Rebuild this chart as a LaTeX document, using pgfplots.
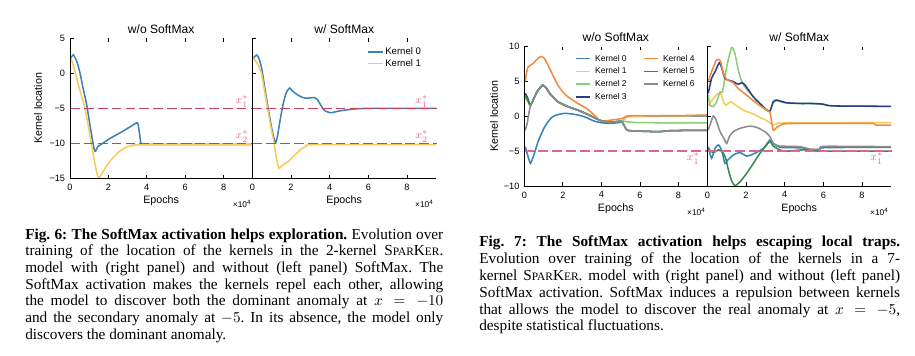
\documentclass[border=0pt]{standalone}
\usepackage{fontspec}
\setmainfont{Liberation Serif}
\setsansfont{Liberation Sans}
\usepackage{pgfplots}
\pgfplotsset{compat=1.18}
\definecolor{kA}{HTML}{3A80BA}
\definecolor{kB}{HTML}{F9C95A}
\definecolor{kC}{HTML}{86CF74}
\definecolor{kD}{HTML}{2B3C8A}
\definecolor{kE}{HTML}{EF8A3E}
\definecolor{kF}{HTML}{2F8B4F}
\definecolor{kG}{HTML}{8C8C8C}
\definecolor{refred}{HTML}{C8405E}
\definecolor{refpink}{HTML}{E0658E}
\definecolor{lab}{HTML}{E0708E}
\newcommand\fs[1]{\fontsize{#1}{#1}\selectfont}
\newcommand\smc[1]{{\fontsize{8.2}{9}\selectfont #1}}
\newcommand\sparker{S\smc{PAR}K\smc{ER}}
\pgfplotsset{
  panel/.style={
    scale only axis, anchor=north west,
    axis line style={draw=none},
    xmin=0, xmax=9.5,
    xtick={0,2,4,6,8}, xticklabels={0,2,4,6,8},
    xtick pos=both, ytick pos=left, tick align=inside,
    major tick length=2.6pt,
    tick style={black, line width=0.6pt},
    ticklabel style={font=\fs{6.6}\sffamily},
    xticklabel style={yshift=-0.5pt},
    clip=false,
    legend image code/.code={\draw[##1, line width=1.2pt, solid] (0pt,0pt) -- (11pt,0pt);},
    every axis plot/.append style={line width=1.1pt, smooth, tension=0.35},
  },
}
\begin{document}
\frenchspacing
\begin{tikzpicture}
\begin{scope}[x=0.72pt,y=-0.72pt]
\path[use as bounding box] (0,0) rectangle (915,355);
\coordinate (A) at (70,38.3);
\coordinate (B) at (252.3,38.3);
\coordinate (C) at (524.3,46.7);
\coordinate (D) at (707.3,46.7);
\end{scope}

% ---------- Fig 6 left
\begin{axis}[panel, at={(A)}, width=131.3pt, height=100.8pt,
  ymin=-15, ymax=5, ytick={-15,-10,-5,0,5}, yticklabels={−15,−10,−5,0,5}]
\addplot[kA] coordinates {(0.05,2.2) (0.17,2.65) (0.35,1.73) (0.52,0.05) (0.7,-2.36) (0.87,-4.5) (1.04,-7.4) (1.22,-10.3) (1.3,-11.15) (1.36,-11.0) (1.44,-10.5) (1.57,-10.25) (2.09,-9.3) (2.61,-8.5) (3.13,-7.65) (3.51,-7.07) (3.6,-8.2) (3.7,-10.05) (3.9,-10.15) (9.5,-10.15)};
\addplot[kB] coordinates {(0.05,2.2) (0.26,0.3) (0.43,-1.6) (0.61,-3.3) (0.78,-5.0) (0.96,-7.6) (1.13,-10.3) (1.3,-12.9) (1.43,-14.6) (1.51,-15.0) (1.65,-14.4) (1.91,-13.2) (2.26,-12.0) (2.6,-11.1) (2.96,-10.5) (3.3,-10.3) (3.65,-10.22) (9.5,-10.22)};
\addplot[refred, line width=0.9pt, dash pattern=on 7pt off 3pt] coordinates {(0,-5) (9.5,-5)};
\addplot[refred, line width=0.9pt, dash pattern=on 7pt off 3pt] coordinates {(0,-10) (9.5,-10)};
\node[lab, font=\fs{8}, yshift=4.8pt] at (axis cs:8.96,-5) {$x_1^*$};
\node[lab, font=\fs{8}, yshift=4.8pt] at (axis cs:8.96,-10) {$x_2^*$};
\end{axis}

% ---------- Fig 6 right
\begin{axis}[panel, at={(B)}, width=132.3pt, height=100.8pt,
  ymin=-15, ymax=5, ytick={-15,-10,-5,0,5}, yticklabels={},
  legend style={draw=none, fill=none, font=\fs{6.9}\sffamily, at={(axis description cs:0.6,0.965)}, anchor=north west,
    nodes={inner sep=1pt, text height=5pt, text depth=1.3pt}}, legend cell align=left]
\addplot[kA, forget plot] coordinates {(0.05,2.2) (0.22,2.6) (0.35,2.1) (0.5,0.5) (0.65,-2.2) (0.82,-5.0) (1.0,-7.8) (1.15,-9.6) (1.21,-9.95) (1.3,-9.0) (1.45,-6.5) (1.6,-4.3) (1.75,-2.8) (1.93,-2.1) (2.1,-2.6) (2.35,-3.1) (2.6,-3.45) (2.8,-3.56) (3.0,-3.5) (3.21,-3.46) (3.38,-3.8) (3.55,-4.6) (3.73,-5.3) (4.03,-5.63) (4.3,-5.5) (4.58,-5.34) (5.26,-5.1) (5.95,-5.02) (9.5,-5.0)};
\addplot[kB, forget plot] coordinates {(0.05,2.2) (0.25,1.4) (0.47,0.05) (0.63,-2.5) (0.79,-5.0) (0.95,-7.5) (1.13,-10.0) (1.25,-12.2) (1.38,-13.56) (1.5,-13.3) (1.68,-12.9) (1.9,-12.5) (2.19,-11.7) (2.5,-10.9) (2.79,-10.43) (3.21,-10.2) (9.5,-10.2)};
\addplot[refred, line width=0.9pt, dash pattern=on 7pt off 3pt, forget plot] coordinates {(0,-5) (9.5,-5)};
\addplot[refred, line width=0.9pt, dash pattern=on 7pt off 3pt, forget plot] coordinates {(0,-10) (9.5,-10)};
\node[lab, font=\fs{8}, yshift=4.8pt] at (axis cs:8.76,-5) {$x_1^*$};
\node[lab, font=\fs{8}, yshift=4.8pt] at (axis cs:8.76,-10) {$x_2^*$};
\addlegendimage{draw=kA, line width=1.2pt}\addlegendentry{Kernel 0}
\addlegendimage{draw=kB, line width=1.2pt}\addlegendentry{Kernel 1}
\end{axis}

% ---------- Fig 7 left
\begin{axis}[panel, at={(C)}, width=131.8pt, height=100.3pt,
  ymin=-10, ymax=10, ytick={-10,-5,0,5,10}, yticklabels={−10,−5,0,5,10},
  legend columns=2,
  legend style={draw=none, fill=none, font=\fs{6.1}\sffamily, at={(axis description cs:0.255,0.975)}, anchor=north west,
    nodes={inner sep=1pt, text height=4.6pt, text depth=1.2pt},
    row sep=1.4pt, /tikz/every even column/.append style={column sep=11pt},
    /tikz/every odd column/.append style={column sep=2pt}},
  legend cell align=left,
  legend image code/.code={\draw[#1, line width=1.2pt, solid] (0pt,0pt) -- (10pt,0pt);}]
\addplot[kA, forget plot] coordinates {(0.05,-4.35) (0.2,-5.8) (0.32,-6.75) (0.5,-5.5) (0.72,-3.6) (1.0,-1.8) (1.23,-0.77) (1.45,-0.1) (1.66,0.19) (2.09,0.43) (2.6,0.29) (3.11,-0.05) (3.62,-0.67) (3.97,-0.91) (4.48,-1.0) (4.99,-0.86) (5.1,-0.6) (5.33,-0.05) (6,0.0) (9.5,0.05)};
\addplot[kB, forget plot] coordinates {(0.05,2.6) (0.2,2.0) (0.32,1.55) (0.5,2.6) (0.7,3.7) (0.97,4.5) (1.15,4.0) (1.32,3.3) (1.74,2.1) (2.26,1.4) (2.77,0.9) (3.28,0.3) (3.79,-0.4) (4.0,-0.65) (4.48,-0.85) (4.99,-0.7) (5.1,-0.6) (5.33,0.0) (6,0.05) (9.5,0.1)};
\addplot[kC, forget plot] coordinates {(0.05,2.9) (0.2,2.1) (0.32,1.6) (0.5,2.6) (0.7,3.7) (0.97,4.5) (1.15,4.0) (1.32,3.3) (1.74,2.1) (2.26,1.4) (2.77,0.9) (3.28,0.3) (3.79,-0.4) (4.0,-0.65) (4.48,-0.85) (4.99,-0.7) (5.1,-0.65) (5.33,-0.77) (6.0,-0.9) (9.5,-0.95)};
\addplot[kD, forget plot] coordinates {(0.05,3.3) (0.15,2.8) (0.32,1.6) (0.5,2.6) (0.7,3.7) (0.97,4.5) (1.15,4.0) (1.32,3.3) (1.74,2.1) (2.26,1.4) (2.77,0.9) (3.28,0.3) (3.79,-0.4) (4.0,-0.65) (4.48,-0.85) (4.99,-0.7) (5.1,-0.9) (5.33,-1.96) (5.8,-2.1) (7.0,-2.2) (7.6,-2.05) (9.5,-2.0)};
\addplot[kE, forget plot] coordinates {(0.05,5.0) (0.12,6.3) (0.2,7.1) (0.46,7.6) (0.7,8.3) (0.88,8.6) (1.05,8.3) (1.23,7.37) (1.5,5.8) (1.74,4.5) (2.0,3.5) (2.26,2.8) (2.77,1.87) (3.28,1.05) (3.62,0.2) (3.88,-0.5) (4.1,-0.65) (4.48,-0.55) (5.08,-0.3) (5.33,0.05) (6.0,0.1) (8.0,0.1) (9.5,0.2)};
\addplot[kF, forget plot] coordinates {(0.05,3.0) (0.2,2.2) (0.32,1.6) (0.5,2.6) (0.7,3.7) (0.97,4.5) (1.15,4.0) (1.32,3.3) (1.74,2.1) (2.26,1.4) (2.77,0.9) (3.28,0.3) (3.79,-0.4) (4.0,-0.65) (4.48,-0.85) (4.99,-0.7) (5.1,-0.9) (5.33,-1.96) (5.8,-2.1) (7.0,-2.2) (7.6,-2.05) (9.5,-2.0)};
\addplot[kG, forget plot] coordinates {(0.05,-2.0) (0.15,-1.0) (0.25,0.6) (0.32,1.5) (0.5,2.6) (0.7,3.7) (0.97,4.5) (1.15,4.0) (1.32,3.3) (1.74,2.1) (2.26,1.4) (2.77,0.9) (3.28,0.3) (3.79,-0.4) (4.0,-0.65) (4.48,-0.85) (4.99,-0.7) (5.1,-0.9) (5.33,-1.96) (5.8,-2.1) (7.0,-2.2) (7.6,-2.05) (9.5,-2.0)};
\addplot[refpink, line width=1pt, dash pattern=on 7pt off 3pt, forget plot] coordinates {(0,-5) (9.5,-5)};
\node[lab, font=\fs{8}, yshift=-5.1pt] at (axis cs:8.77,-5) {$x_1^*$};
\addlegendimage{draw=kA}\addlegendentry{Kernel 0}
\addlegendimage{draw=kE}\addlegendentry{Kernel 4}
\addlegendimage{draw=kB}\addlegendentry{Kernel 1}
\addlegendimage{draw=kF}\addlegendentry{Kernel 5}
\addlegendimage{draw=kC}\addlegendentry{Kernel 2}
\addlegendimage{draw=kG}\addlegendentry{Kernel 6}
\addlegendimage{draw=kD}\addlegendentry{Kernel 3}
\end{axis}

% ---------- Fig 7 right
\begin{axis}[panel, at={(D)}, width=132.3pt, height=100.3pt,
  ymin=-10, ymax=10, ytick={-10,-5,0,5,10}, yticklabels={}]
\addplot[kA] coordinates {(0.05,-4.35) (0.22,-6.0) (0.4,-4.6) (0.57,-4.1) (0.74,-4.83) (0.91,-6.75) (1.03,-6.36) (1.34,-5.55) (1.69,-5.2) (2.03,-5.7) (2.38,-5.4) (2.9,-4.6) (3.24,-3.4) (3.45,-3.97) (3.76,-4.45) (4.5,-4.5) (5.0,-4.55) (5.3,-4.85) (5.8,-4.9) (6.05,-4.5) (9.5,-4.45)};
\addplot[kB] coordinates {(0.05,1.6) (0.31,2.58) (0.57,3.3) (0.74,3.06) (0.83,2.1) (0.97,1.6) (1.17,2.1) (1.34,1.87) (1.86,0.9) (2.38,0.33) (2.9,-0.38) (3.24,-0.9) (3.41,-1.24) (3.6,-1.05) (4.0,-0.95) (9.5,-0.9)};
\addplot[kC] coordinates {(0.05,3.06) (0.14,1.6) (0.31,1.4) (0.48,2.1) (0.66,3.5) (0.79,3.5) (1.0,7.1) (1.26,9.9) (1.43,9.0) (1.6,6.65) (1.78,5.0) (2.03,3.9) (2.55,2.34) (2.98,1.15) (3.24,0.77) (3.41,2.0) (3.59,2.25) (4.1,1.9) (5.5,1.8) (6.0,1.7) (6.5,1.5) (9.5,1.44)};
\addplot[kD] coordinates {(0.05,3.3) (0.22,5.45) (0.4,6.4) (0.62,7.7) (0.74,7.0) (0.91,5.45) (1.09,5.2) (1.34,5.0) (1.6,4.6) (1.78,4.83) (1.95,4.5) (2.38,2.8) (2.81,1.6) (3.07,0.9) (3.24,0.77) (3.41,2.1) (3.59,2.34) (4.1,1.96) (4.79,1.85) (5.5,1.85) (6.0,1.75) (6.5,1.5) (9.5,1.44)};
\addplot[kE] coordinates {(0.05,5.0) (0.22,6.4) (0.45,8.0) (0.57,8.2) (0.69,7.85) (0.83,6.2) (1.0,5.3) (1.34,4.83) (1.6,4.0) (2.03,3.06) (2.55,1.87) (3.07,0.9) (3.24,0.5) (3.41,-1.96) (3.59,-1.58) (3.93,-1.1) (4.5,-1.02) (8.4,-1.0) (8.7,-1.24) (9.5,-1.26)};
\addplot[kF] coordinates {(0.05,-4.6) (0.3,-5.2) (0.6,-4.8) (0.8,-5.2) (0.95,-6.0) (1.1,-7.8) (1.25,-9.2) (1.43,-9.95) (1.69,-9.4) (2.03,-8.2) (2.38,-6.75) (2.72,-5.3) (3.07,-4.1) (3.24,-3.6) (3.41,-4.26) (3.76,-4.83) (4.1,-5.0) (5.0,-4.8) (5.5,-4.95) (6.2,-5.0) (9.5,-5.0)};
\addplot[kG] coordinates {(0.05,-1.96) (0.14,-1.24) (0.31,0.05) (0.45,-0.5) (0.66,-2.2) (0.86,-3.16) (1.0,-3.9) (1.14,-2.9) (1.34,-2.2) (1.69,-1.72) (2.2,-1.4) (2.55,-1.58) (2.98,-2.2) (3.24,-2.92) (3.41,-3.9) (3.76,-4.26) (4.79,-4.35) (5.31,-4.7) (5.83,-4.7) (6.03,-4.3) (9.5,-4.35)};
\addplot[refpink, line width=1pt, dash pattern=on 7pt off 3pt] coordinates {(0,-5) (9.5,-5)};
\node[lab, font=\fs{8}, yshift=-5.1pt] at (axis cs:8.76,-5) {$x_1^*$};
\end{axis}

\begin{scope}[x=0.72pt,y=-0.72pt]
% spines
\draw[line width=0.7pt] (70,38.3) -- (70,178.3) -- (436,178.3);
\draw[line width=0.7pt] (252.3,38.3) -- (252.3,178.3);
\draw[line width=0.7pt] (524.3,46.7) -- (524.3,186) -- (891,186);
\draw[line width=0.7pt] (707.3,46.7) -- (707.3,186);
% titles
\node[font=\fs{8.7}\sffamily] at (161.2,29.3) {w/o SoftMax};
\node[font=\fs{8.7}\sffamily] at (344.2,29.3) {w/ SoftMax};
\node[font=\fs{8.7}\sffamily] at (615.8,37.3) {w/o SoftMax};
\node[font=\fs{8.7}\sffamily] at (799.2,37.3) {w/ SoftMax};
% labels
\node[font=\fs{7.7}\sffamily, rotate=90] at (38,108.3) {Kernel location};
\node[font=\fs{7.7}\sffamily, rotate=90] at (494,116.3) {Kernel location};
\node[font=\fs{7.7}\sffamily] at (161.2,201) {Epochs};
\node[font=\fs{7.7}\sffamily] at (344.2,201) {Epochs};
\node[font=\fs{7.7}\sffamily] at (615.8,209) {Epochs};
\node[font=\fs{7.7}\sffamily] at (799.2,209) {Epochs};
\node[font=\fs{6}\sffamily] at (241.7,204) {×10\raisebox{0.8ex}{\fs{4.5}4}};
\node[font=\fs{6}\sffamily] at (424,204) {×10\raisebox{0.8ex}{\fs{4.5}4}};
\node[font=\fs{6}\sffamily] at (696,212) {×10\raisebox{0.8ex}{\fs{4.5}4}};
\node[font=\fs{6}\sffamily] at (879,212) {×10\raisebox{0.8ex}{\fs{4.5}4}};
% captions
\node[anchor=base west, inner sep=0pt] at (25,239) {\parbox[t]{301pt}{\fontsize{11}{12}\selectfont\frenchspacing
\textbf{Fig. 6: The SoftMax activation helps exploration.} Evolution over\linebreak
training of the location of the kernels in the 2-kernel \sparker.\linebreak
model with (right panel) and without (left panel) SoftMax. The\linebreak
SoftMax activation makes the kernels repel each other, allowing\linebreak
the model to discover both the dominant anomaly at $x = -10$\linebreak
and the secondary anomaly at $-5$. In its absence, the model only\linebreak
discovers the dominant anomaly.}};
\node[anchor=base west, inner sep=0pt] at (479,246.8) {\parbox[t]{303pt}{\fontsize{11}{12.1}\selectfont\frenchspacing
\textbf{Fig. 7: The SoftMax activation helps escaping local traps.}\linebreak
Evolution over training of the location of the kernels in a 7-\linebreak
kernel \sparker. model with (right panel) and without (left panel)\linebreak
SoftMax activation. SoftMax induces a repulsion between kernels\linebreak
that allows the model to discover the real anomaly at $x = -5$,\linebreak
despite statistical fluctuations.}};
\end{scope}
\end{tikzpicture}
\end{document}
